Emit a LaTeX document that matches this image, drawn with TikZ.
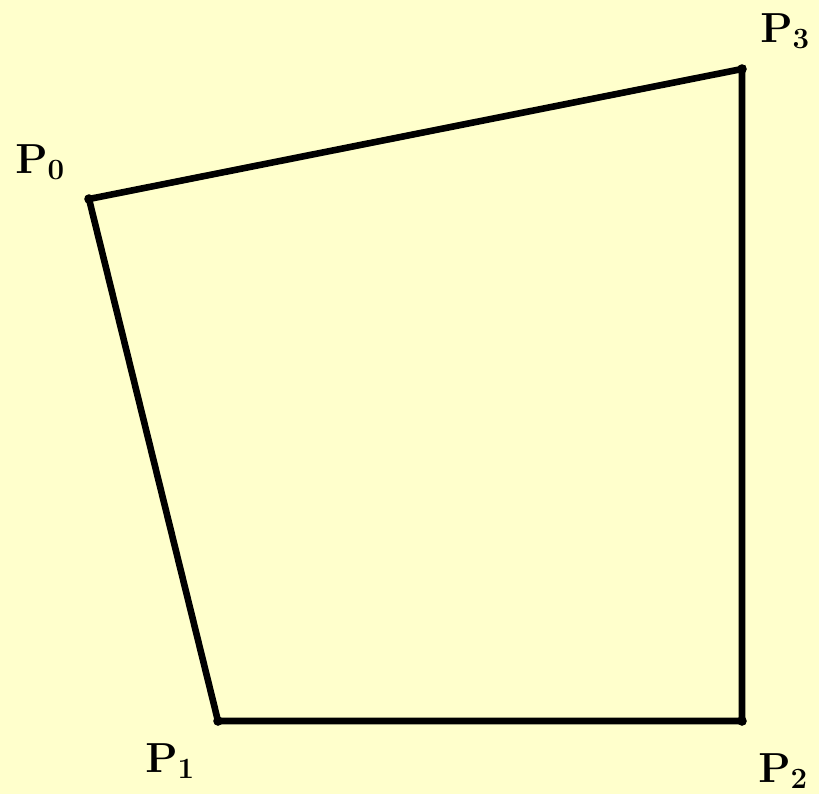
\documentclass[tikz,border=0pt]{standalone}
\usepackage{fix-cm}
\usetikzlibrary{positioning}
\definecolor{paper}{RGB}{255,255,204}
\definecolor{ink}{RGB}{0,0,0}
\tikzset{
  edge/.style={draw=#1,line width=3.3pt,line join=miter},
  edge/.default=ink,
  vertex/.style={fill=#1},
  vertex/.default=ink,
  tag/.style={inner sep=0pt,anchor=base west,text=ink,
    font=\fontsize{21}{25}\selectfont},
}

\begin{document}
\begin{tikzpicture}[x=0.5pt,y=-0.5pt]
  \fill[paper] (0,0) rectangle (819,794);
  \useasboundingbox (0,0) rectangle (819,794);
  % control polygon
  \coordinate (p0) at (89,199);
  \coordinate (p1) at (218,721);
  \coordinate (p2) at (742,721);
  \coordinate (p3) at (742,69);
  \draw[edge] (p0) -- (p1) -- (p2) -- (p3) -- cycle;
  \foreach \p in {p0,p1,p2,p3}
    \fill[vertex] (\p) circle (2.4pt);
  % labels
  \foreach \n/\x/\y in {0/15/173,1/145/772,2/758/782,3/760/42}
    \node[tag] (l\n) at (\x,\y) {$\mathbf{P_\n}$};
\end{tikzpicture}
\end{document}
